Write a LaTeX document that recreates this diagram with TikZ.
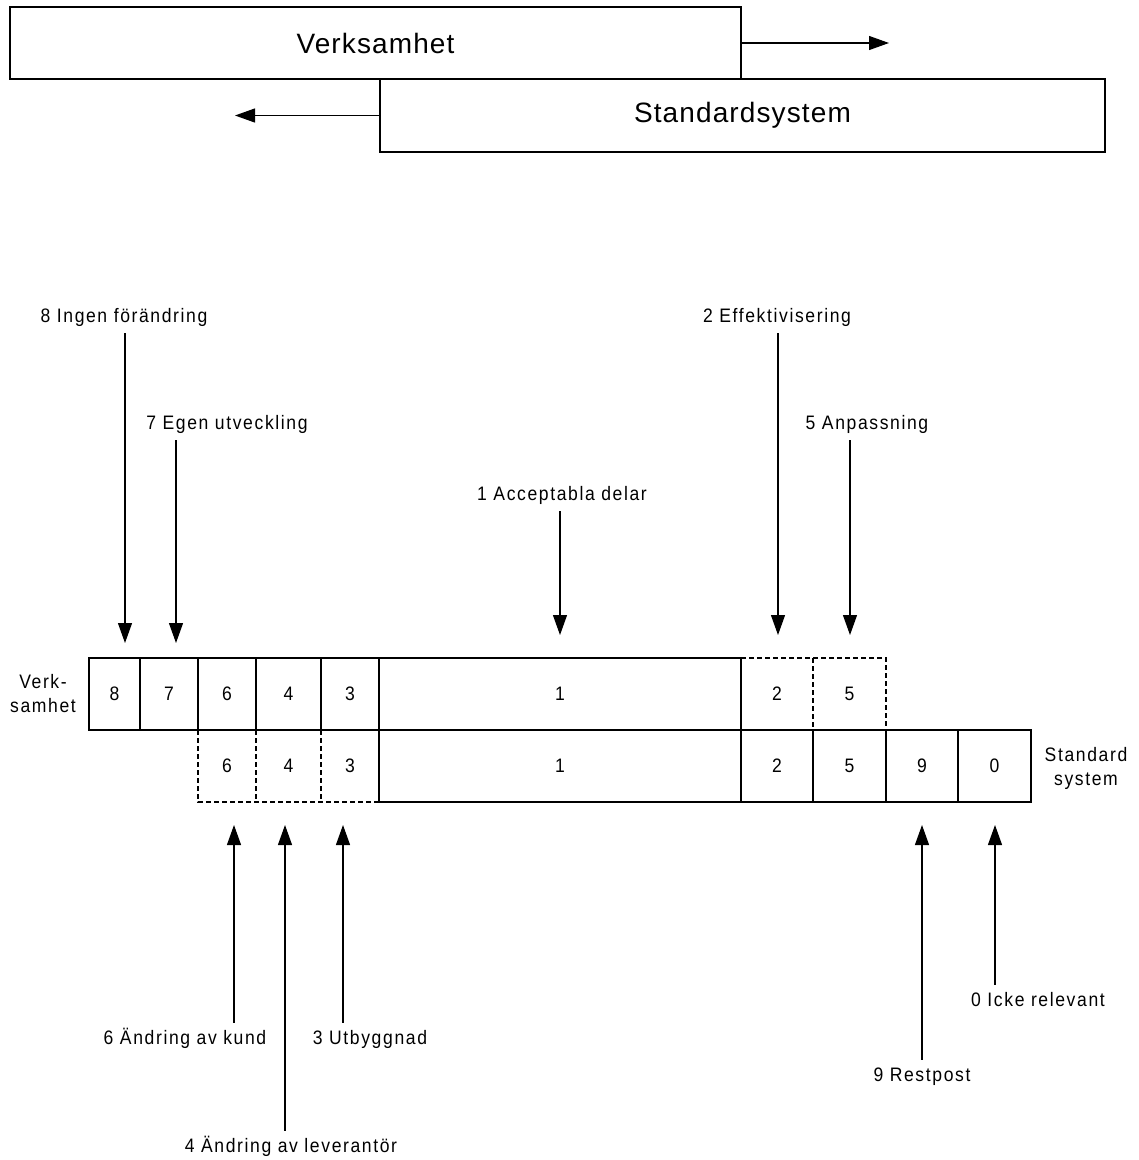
\documentclass[tikz,border=0pt]{standalone}
\usepackage{fontspec}
\setmainfont{Liberation Sans}[LetterSpace=8.3, FakeStretch=0.9]
\newfontfamily\titlefont{Liberation Sans}[LetterSpace=4]
\usetikzlibrary{arrows.meta}

\tikzset{
  box/.style={draw, line width=1.2pt, inner sep=0pt, outer sep=0pt,
    font=\titlefont\fontsize{28}{34}\selectfont},
  cell/.style={draw, line width=1.2pt, inner sep=0pt, outer sep=0pt, minimum height=72pt},
  hole/.style={inner sep=0pt, outer sep=0pt, minimum height=72pt},
  dline/.style={line width=1.2pt, dash pattern=on 5pt off 3pt},
  lbl/.style={anchor=base, inner xsep=0pt, inner ysep=7pt, text height=14pt, text depth=4pt},
  arr/.style={-{Triangle[length=20pt,width=14pt]}, line width=1.2pt},
}

\begin{document}
\begin{tikzpicture}[x=1pt, y=-1pt, font=\fontsize{19.5}{24}\selectfont]
\useasboundingbox (0,0) rectangle (1139,1160);

% the two overlapping bars
\node[box, minimum width=731pt, minimum height=72pt] (verk) at (375.5,43) {Verksamhet};
\node[box, minimum width=725pt, minimum height=73pt] (std) at (742.5,115.5) {Standardsystem};
\coordinate (vend) at (889,43);
\coordinate (send) at (235,115.5);
\draw[arr] (verk.east) -- (vend);
\draw[arr] (std.west) -- (send);

% table, dashed parts first
\foreach \n/\a/\b in {2/741/813, 5/813/886}
  \node[hole, minimum width={\b-\a}] (v\n) at ({(\a+\b)/2},694) {\n};
\foreach \n/\a/\b in {6/198/256, 4/256/321, 3/321/379}
  \node[hole, minimum width={\b-\a}] (s\n) at ({(\a+\b)/2},766) {\n};
\draw[dline] (v2.north west) -| (v5.south east);
\draw[dline] (v5.north west) -- (v5.south west);
\draw[dline] (s6.north west) |- (s3.south east);
\draw[dline] (s4.north west) -- (s4.south west);
\draw[dline] (s3.north west) -- (s3.south west);

\foreach \n/\a/\b in {8/89/140, 7/140/198, 6/198/256, 4/256/321, 3/321/379, 1/379/741}
  \node[cell, minimum width={\b-\a}] (v\n) at ({(\a+\b)/2},694) {\n};
\foreach \n/\a/\b in {1/379/741, 2/741/813, 5/813/886, 9/886/958, 0/958/1031}
  \node[cell, minimum width={\b-\a}] (s\n) at ({(\a+\b)/2},766) {\n};

\node[align=center] (vrow) at (43,694) {Verk-\\samhet};
\node[align=center] (srow) at (1086,768) {Standard\\system};

% labels and arrows
\node[lbl] (l8) at (124,322) {8 Ingen förändring};
\node[lbl] (l7) at (227,429) {7 Egen utveckling};
\node[lbl] (l1) at (562,500) {1 Acceptabla delar};
\node[lbl] (l2) at (777,322) {2 Effektivisering};
\node[lbl] (l5) at (867,429) {5 Anpassning};
\node[lbl] (l6) at (185,1044) {6 Ändring av kund};
\node[lbl] (l3) at (370,1044) {3 Utbyggnad};
\node[lbl] (l4) at (291,1152) {4 Ändring av leverantör};
\node[lbl] (l9) at (922,1081) {9 Restpost};
\node[lbl] (l0) at (1038,1006) {0 Icke relevant};

\coordinate (t8) at (125,643);
\coordinate (t7) at (176,643);
\coordinate (t1) at (560,635);
\coordinate (t2) at (778,635);
\coordinate (t5) at (850,635);
\coordinate (t6) at (234,825);
\coordinate (t4) at (285,825);
\coordinate (t3) at (343,825);
\coordinate (t9) at (922,825);
\coordinate (t0) at (995,825);

\foreach \n in {8,7,1,2,5}
  \draw[arr] (l\n.south -| t\n) -- (t\n);
\foreach \n in {6,4,3,9,0}
  \draw[arr] (l\n.north -| t\n) -- (t\n);

\end{tikzpicture}
\end{document}
